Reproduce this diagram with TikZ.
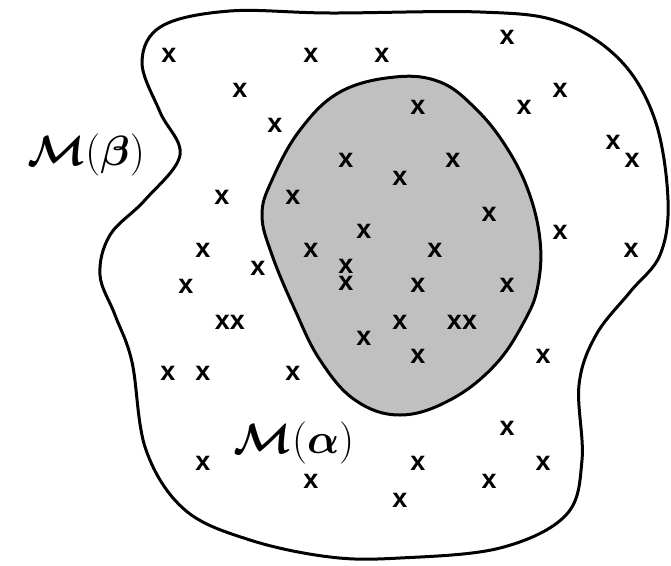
\documentclass[tikz,border=0pt]{standalone}
\usepackage{fontspec}
\setsansfont{Liberation Sans}
\usepackage{amsmath}
\usepackage{bm}
\definecolor{blobgray}{HTML}{C0C0C0}
\tikzset{
  xm/.style={font=\sffamily\bfseries\fontsize{27}{27}\selectfont, inner sep=0pt},
  setlabel/.style={font=\Huge, inner sep=0pt, scale=1.7},
  outline/.style={line width=3pt, line join=round}
}
\begin{document}
\begin{tikzpicture}[x=1pt,y=-1pt]
\useasboundingbox (0,0) rectangle (671,565);
% outer region M(beta)
\draw[outline, fill=white] plot[smooth cycle, tension=0.6] coordinates {
  (180,155) (160,112) (142,62) (162,26) (230,11) (330,13) (480,12) (560,22)
  (620,60) (655,120) (668,200) (660,255) (630,292) (596,335) (579,385)
  (582,460) (566,515) (500,548) (400,558) (330,557) (250,540) (185,510)
  (146,450) (132,362) (115,315) (100,275) (110,235) (145,200)};
% inner region M(alpha)
\draw[outline, fill=blobgray] plot[smooth cycle, tension=0.65] coordinates {
  (395,77) (440,82) (475,108) (505,145) (528,190) (540,240) (538,285)
  (525,320) (495,365) (450,400) (400,415) (355,400) (320,360) (295,310)
  (272,255) (262,215) (272,180) (300,130) (340,92)};
% labels
\node[setlabel] (lbeta) at (86,155) {$\boldsymbol{\mathcal{M}}(\boldsymbol{\beta})$};
\node[setlabel] (lalpha) at (294,443) {$\boldsymbol{\mathcal{M}}(\boldsymbol{\alpha})$};
% points
\foreach \p [count=\i] in {
  (169,55),(311,55),(382,55),(507,37),(240,90),(418,107),(524,107),(560,90),
  (275,125),(346,160),(453,160),(400,178),(613,142),(632,160),(222,197),
  (293,197),(489,214),(560,232),(364,231),(631,250),(203,250),(311,250),
  (435,250),(258,268),(346,266),(346,283),(186,286),(418,285),(507,285),
  (400,322),(364,338),(418,356),(543,356),(168,373),(203,373),(293,373),
  (507,428),(203,463),(418,463),(543,463),(311,481),(489,481),(400,500)}
  \node[xm] (x\i) at \p {x};
\node[xm] (xx1) at (230,322) {xx};
\node[xm] (xx2) at (462,322) {xx};
\end{tikzpicture}
\end{document}
